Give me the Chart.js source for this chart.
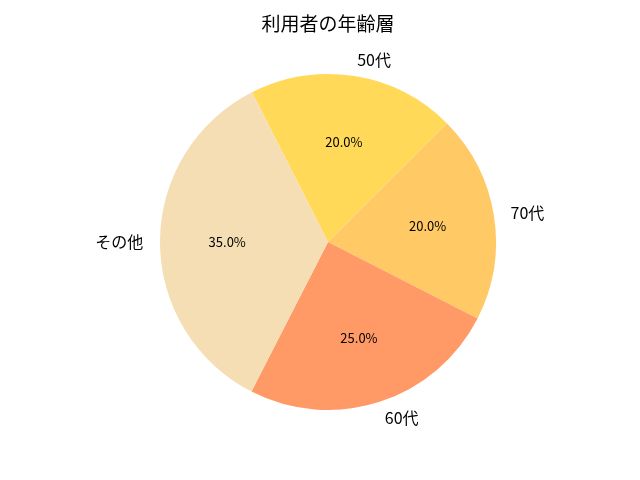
<!DOCTYPE html>
<html>
<head>
<meta charset="utf-8">
<script src="https://cdn.jsdelivr.net/npm/chart.js@4/dist/chart.umd.min.js"></script>
<style>
  html, body { margin: 0; padding: 0; background: #fff; }
  #wrap { width: 640px; height: 480px; }
</style>
</head>
<body>
<div id="wrap"><canvas id="ageChart"></canvas></div>
<script>
var FONT = "'Noto Sans CJK JP', 'Noto Sans', sans-serif";

// data
var categories = ["50代", "70代", "60代", "その他"];
var shares = [20, 20, 25, 35];
var sliceColors = ["#FFD957", "#FFC966", "#FF9966", "#F5DEB3"];

// draws outside labels (r * 1.1) and percentages (r * 0.6), like matplotlib
var pieLabels = {
  id: "pieLabels",
  afterDatasetsDraw: function (chart) {
    var ctx = chart.ctx;
    var meta = chart.getDatasetMeta(0);
    var total = shares.reduce(function (a, b) { return a + b; }, 0);
    ctx.save();
    ctx.fillStyle = "#000";
    ctx.textBaseline = "middle";
    meta.data.forEach(function (arc, i) {
      var mid = (arc.startAngle + arc.endAngle) / 2;
      var r = arc.outerRadius;
      var c = Math.cos(mid), s = Math.sin(mid);

      ctx.font = "16px " + FONT;
      ctx.textAlign = c > 0 ? "left" : "right";
      ctx.fillText(categories[i], arc.x + c * r * 1.1, arc.y + s * r * 1.1);

      ctx.font = "13px " + FONT;
      ctx.textAlign = "center";
      var pct = (shares[i] / total * 100).toFixed(1) + "%";
      ctx.fillText(pct, arc.x + c * r * 0.6, arc.y + s * r * 0.6);
    });
    ctx.restore();
  }
};

var ctx = document.getElementById("ageChart").getContext("2d");
new Chart(ctx, {
  type: "pie",
  data: {
    labels: categories,
    datasets: [
      {
        data: shares,
        backgroundColor: sliceColors,
        borderWidth: 0,
        hoverOffset: 0,
      },
    ],
  },
  options: {
    responsive: true,
    maintainAspectRatio: false,
    animation: false,
    rotation: -26.9,
    layout: {
      padding: { left: 160, right: 144, top: 0, bottom: 70 },
    },
    plugins: {
      legend: { display: false },
      tooltip: { enabled: false },
      title: {
        display: true,
        text: "利用者の年齢層",
        color: "#000",
        font: { family: FONT, size: 19, weight: "normal", lineHeight: 1.2 },
        padding: { top: 12, bottom: 39.2 },
      },
    },
  },
  plugins: [pieLabels],
});
</script>
</body>
</html>
